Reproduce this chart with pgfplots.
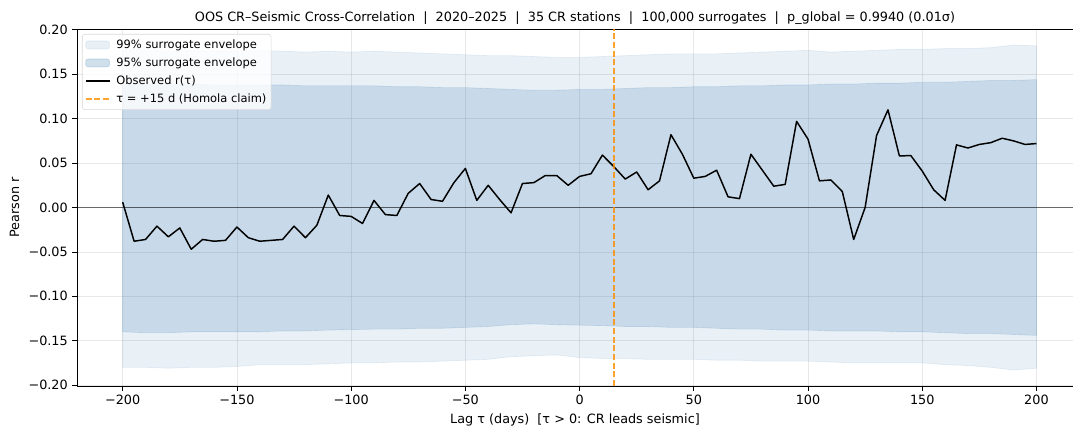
\documentclass[border=0pt]{standalone}
\usepackage{pgfplots}
\pgfplotsset{compat=1.18}
\usepackage{pgfplotstable}
\usepgfplotslibrary{fillbetween}
\usepackage{fontspec}
\setmainfont{DejaVu Sans}
\definecolor{steelblue}{HTML}{4682B4}
\definecolor{darkorange}{HTML}{FF8C00}

\pgfplotstableread{
x u99 u95 l95 l99
-200 0.177 0.139 -0.140 -0.180
-190 0.177 0.139 -0.141 -0.180
-180 0.176 0.139 -0.141 -0.181
-170 0.177 0.139 -0.140 -0.180
-160 0.176 0.138 -0.140 -0.180
-150 0.176 0.138 -0.140 -0.179
-140 0.177 0.138 -0.140 -0.177
-130 0.176 0.138 -0.139 -0.177
-120 0.175 0.137 -0.139 -0.177
-110 0.176 0.137 -0.138 -0.176
-100 0.175 0.137 -0.1375 -0.175
-90 0.176 0.137 -0.137 -0.175
-80 0.175 0.136 -0.137 -0.174
-70 0.174 0.136 -0.136 -0.174
-60 0.173 0.135 -0.136 -0.173
-50 0.172 0.135 -0.135 -0.172
-40 0.171 0.134 -0.134 -0.171
-30 0.171 0.133 -0.132 -0.168
-20 0.170 0.132 -0.131 -0.167
-10 0.169 0.132 -0.132 -0.166
0 0.169 0.133 -0.1325 -0.169
10 0.170 0.133 -0.133 -0.170
20 0.171 0.134 -0.134 -0.170
30 0.172 0.135 -0.134 -0.171
40 0.173 0.135 -0.135 -0.171
50 0.173 0.136 -0.135 -0.171
60 0.173 0.136 -0.136 -0.172
70 0.174 0.137 -0.137 -0.172
80 0.175 0.137 -0.137 -0.173
90 0.176 0.138 -0.138 -0.173
100 0.177 0.138 -0.138 -0.173
110 0.175 0.139 -0.139 -0.174
120 0.176 0.139 -0.139 -0.175
130 0.177 0.140 -0.139 -0.175
140 0.178 0.140 -0.140 -0.175
150 0.178 0.141 -0.140 -0.175
160 0.179 0.141 -0.141 -0.177
170 0.179 0.142 -0.142 -0.178
180 0.180 0.143 -0.142 -0.180
190 0.183 0.143 -0.143 -0.183
200 0.182 0.144 -0.144 -0.181
}\env

\pgfplotstableread{
x r
-200 0.006
-195 -0.038
-190 -0.036
-185 -0.021
-180 -0.033
-175 -0.023
-170 -0.047
-165 -0.036
-160 -0.038
-155 -0.037
-150 -0.022
-145 -0.034
-140 -0.038
-135 -0.037
-130 -0.036
-125 -0.021
-120 -0.034
-115 -0.020
-110 0.014
-105 -0.009
-100 -0.010
-95 -0.018
-90 0.008
-85 -0.008
-80 -0.009
-75 0.016
-70 0.027
-65 0.009
-60 0.007
-55 0.028
-50 0.044
-45 0.008
-40 0.025
-35 0.009
-30 -0.006
-25 0.027
-20 0.028
-15 0.036
-10 0.036
-5 0.025
0 0.035
5 0.038
10 0.059
15 0.046
20 0.032
25 0.040
30 0.020
35 0.030
40 0.082
45 0.060
50 0.033
55 0.035
60 0.042
65 0.012
70 0.010
75 0.060
80 0.042
85 0.024
90 0.026
95 0.097
100 0.077
105 0.030
110 0.031
115 0.018
120 -0.036
125 0.000
130 0.081
135 0.110
140 0.058
145 0.0585
150 0.041
155 0.020
160 0.008
165 0.0705
170 0.067
175 0.071
180 0.073
185 0.078
190 0.075
195 0.071
200 0.072
}\obs

\begin{document}
\begin{tikzpicture}
\begin{axis}[
  at={(0,0)}, anchor=south west,
  scale only axis, width=747pt, height=267.75pt,
  xmin=-220, xmax=216, ymin=-0.201, ymax=0.201,
  axis x line*=box, axis y line*=left,
  xtick={-200,-150,-100,-50,0,50,100,150,200},
  xticklabels={−200,−150,−100,−50,0,50,100,150,200},
  ytick={-0.2,-0.15,-0.1,-0.05,0,0.05,0.1,0.15,0.2},
  yticklabels={−0.20,−0.15,−0.10,−0.05,0.00,0.05,0.10,0.15,0.20},
  xtick pos=left, ytick pos=left,
  tick align=outside, major tick length=3.4pt,
  tick style={black, line width=0.6pt},
  axis line style={black, line width=0.6pt},
  grid=major, grid style={gray!60, line width=0.6pt, opacity=0.3},
  tick label style={font=\fontsize{9.6}{11}\selectfont},
  label style={font=\fontsize{9.6}{11}\selectfont},
  title style={font=\fontsize{9.6}{11}\selectfont, yshift=-6.5pt},
  title={OOS CR–Seismic Cross-Correlation\ \ |\ \ 2020–2025\ \ |\ \ 35 CR stations\ \ |\ \ 100,000 surrogates\ \ |\ \ p\_global = 0.9940 (0.01σ)},
  xlabel={Lag τ (days)\ \ [τ > 0: CR leads seismic]},
  ylabel={Pearson r},
  legend cell align=left,
  legend style={at={(0.005,0.986)}, anchor=north west, draw=black!15, rounded corners=2pt,
    fill=white, fill opacity=0.8, text opacity=1, font=\fontsize{8.6}{10}\selectfont,
    inner sep=2pt, row sep=1.5pt, column sep=3pt,
    nodes={inner sep=1.5pt, text height=7pt, text depth=2pt}},
]
\addplot[draw=none, name path=u99, forget plot] table[x=x, y=u99] {\env};
\addplot[draw=none, name path=l99, forget plot] table[x=x, y=l99] {\env};
\addplot[fill=steelblue, fill opacity=0.12, draw=steelblue, draw opacity=0.12, line width=0.5pt,
  legend image code/.code={\draw[fill=steelblue, fill opacity=0.12, draw=steelblue, draw opacity=0.12] (0pt,-3pt) rectangle (18pt,3pt);}]
  fill between[of=u99 and l99];
\addlegendentry{99\% surrogate envelope}
\addplot[draw=none, name path=u95, forget plot] table[x=x, y=u95] {\env};
\addplot[draw=none, name path=l95, forget plot] table[x=x, y=l95] {\env};
\addplot[fill=steelblue, fill opacity=0.2, draw=steelblue, draw opacity=0.2, line width=0.5pt,
  legend image code/.code={\draw[fill=steelblue, fill opacity=0.25, draw=steelblue, draw opacity=0.25] (0pt,-3pt) rectangle (18pt,3pt);}]
  fill between[of=u95 and l95];
\addlegendentry{95\% surrogate envelope}
\addplot[forget plot, black, opacity=0.55, line width=0.6pt] coordinates {(-220,0) (216,0)};
\addplot[forget plot, black, line width=0.6pt] coordinates {(-220,0.2005) (216,0.2005)};
\addplot[black, line width=1.1pt, line join=round,
  legend image code/.code={\draw[black, line width=1.1pt] (0pt,0pt) -- (18pt,0pt);}]
  table[x=x, y=r] {\obs};
\addlegendentry{Observed r(τ)}
\addplot[darkorange, opacity=0.8, line width=1.1pt, dash pattern=on 4.5pt off 2pt,
  legend image code/.code={\draw[darkorange, opacity=0.8, line width=1.1pt, dash pattern=on 4.5pt off 2pt] (0pt,0pt) -- (18pt,0pt);}]
  coordinates {(15,-0.201) (15,0.201)};
\addlegendentry{τ = +15 d (Homola claim)}
\end{axis}
\pgfresetboundingbox
\useasboundingbox (-57.75pt,-29.25pt) rectangle (747pt,289.5pt);
\end{tikzpicture}
\end{document}
